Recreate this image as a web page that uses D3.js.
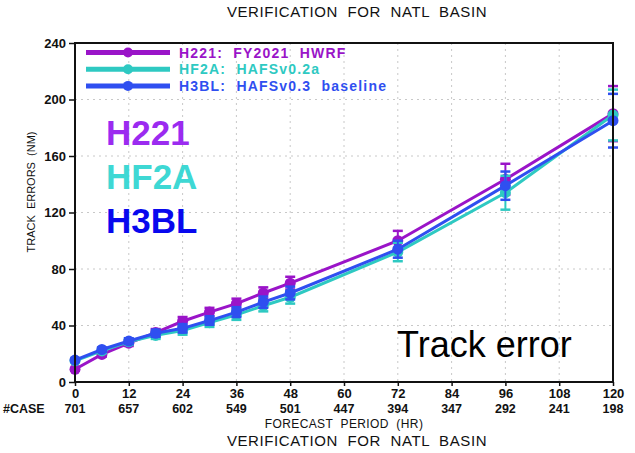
<!DOCTYPE html>
<html>
<head>
<meta charset="utf-8">
<script src="https://cdn.jsdelivr.net/npm/d3@7"></script>
<style>
  html, body { margin: 0; padding: 0; background: #fff; }
  svg { display: block; font-family: "Liberation Sans", Arial, sans-serif; }
</style>
</head>
<body>
<svg id="chart" width="635" height="453"></svg>
<script>
// Forecast lead times (hours) and the verification sample size at each axis tick
const leadHours = [0, 6, 12, 18, 24, 30, 36, 42, 48, 72, 96, 120];
const xTicks = [0, 12, 24, 36, 48, 60, 72, 84, 96, 108, 120];
const caseCounts = [701, 657, 602, 549, 501, 447, 394, 347, 292, 241, 198];
const yTicks = [0, 40, 80, 120, 160, 200, 240];

// Mean track errors (NM) and confidence half-widths per model
const h221 = [9, 19.5, 27.5, 35, 43, 49.5, 55.5, 63, 70, 100, 143.5, 190];
const h221Err = [1, 1.5, 2, 2.5, 3, 3, 3.5, 4, 4.5, 7, 11, 19.5];
const hf2a = [15, 22, 28.5, 33, 36.5, 42, 47.5, 54, 60, 92, 134, 189];
const hf2aErr = [1, 1.5, 2, 2.5, 3, 3, 3.5, 4, 4.5, 6.5, 12, 18];
const h3bl = [15.5, 23, 29, 34.5, 38, 43.5, 49.5, 56.5, 63, 94, 139, 185];
const h3blErr = [1, 1.5, 2, 2.5, 3, 3, 3.5, 4, 4.5, 6, 10, 19];

const seriesNames = ["H221", "HF2A", "H3BL"];
const legendLabels = ["H221:  FY2021  HWRF", "HF2A:  HAFSv0.2a", "H3BL:  HAFSv0.3  baseline"];

const series = [
  { name: seriesNames[0], label: legendLabels[0], values: h221, err: h221Err, color: "#9A14C8", big: "#9B2BF0" },
  { name: seriesNames[1], label: legendLabels[1], values: hf2a, err: hf2aErr, color: "#2EC9C2", big: "#3ED8D4" },
  { name: seriesNames[2], label: legendLabels[2], values: h3bl, err: h3blErr, color: "#2F4FF0", big: "#0808EE" }
];

const FONT = "Liberation Sans, Arial, sans-serif";
const svg = d3.select("#chart");
const plot = { left: 75, right: 613, top: 43, bottom: 382 };

const x = d3.scaleLinear().domain([0, 120]).range([plot.left, plot.right]);
const y = d3.scaleLinear().domain([0, 240]).range([plot.bottom, plot.top]);

// dotted grid
const grid = svg.append("g");
grid.selectAll("line.gx").data(xTicks.slice(1, -1)).enter().append("line")
  .attr("x1", d => x(d)).attr("x2", d => x(d))
  .attr("y1", plot.top).attr("y2", plot.bottom)
  .attr("stroke", "#c8c8c8").attr("stroke-width", 1).attr("stroke-dasharray", "2,4");
grid.selectAll("line.gy").data(yTicks.slice(1, -1)).enter().append("line")
  .attr("x1", plot.left).attr("x2", plot.right)
  .attr("y1", d => y(d)).attr("y2", d => y(d))
  .attr("stroke", "#c8c8c8").attr("stroke-width", 1).attr("stroke-dasharray", "2,4");

// big model tags
const bigTags = svg.append("g").attr("font-family", FONT)
  .attr("font-weight", "bold").attr("font-size", 35);
series.forEach((s, i) => {
  bigTags.append("text").attr("x", 106).attr("y", 145 + i * 44)
    .attr("fill", s.big).text(s.name);
});

// "Track error" annotation
svg.append("text").attr("x", 397).attr("y", 357)
  .attr("font-family", FONT).attr("font-size", 36)
  .attr("fill", "#000").text("Track error");

// series: lines, error bars, markers
const line = d3.line().x((d, i) => x(leadHours[i])).y(d => y(d));
series.forEach(s => {
  const g = svg.append("g");
  g.append("path").datum(s.values).attr("d", line)
    .attr("fill", "none").attr("stroke", s.color).attr("stroke-width", 3);
  const eb = g.selectAll("g.eb").data(s.values).enter().append("g");
  eb.append("line")
    .attr("x1", (d, i) => x(leadHours[i])).attr("x2", (d, i) => x(leadHours[i]))
    .attr("y1", (d, i) => y(d - s.err[i])).attr("y2", (d, i) => y(d + s.err[i]))
    .attr("stroke", s.color).attr("stroke-width", 2);
  [-1, 1].forEach(sign => {
    eb.append("line")
      .attr("x1", (d, i) => x(leadHours[i]) - 5).attr("x2", (d, i) => x(leadHours[i]) + 5)
      .attr("y1", (d, i) => y(d + sign * s.err[i])).attr("y2", (d, i) => y(d + sign * s.err[i]))
      .attr("stroke", s.color).attr("stroke-width", 2.5);
  });
  g.selectAll("circle").data(s.values).enter().append("circle")
    .attr("cx", (d, i) => x(leadHours[i])).attr("cy", d => y(d))
    .attr("r", 5.5).attr("fill", s.color);
});

// frame
svg.append("rect").attr("x", plot.left).attr("y", plot.top)
  .attr("width", plot.right - plot.left).attr("height", plot.bottom - plot.top)
  .attr("fill", "none").attr("stroke", "#111").attr("stroke-width", 2);

// axes
const yAxis = svg.append("g").attr("transform", `translate(${plot.left},0)`)
  .call(d3.axisLeft(y).tickValues(yTicks).tickSize(6).tickPadding(3));
const xAxis = svg.append("g").attr("transform", `translate(0,${plot.bottom})`)
  .call(d3.axisBottom(x).tickValues(xTicks).tickSize(4).tickPadding(3));
[yAxis, xAxis].forEach(a => {
  a.select(".domain").remove();
  a.selectAll(".tick line").attr("stroke", "#111").attr("stroke-width", 1.5);
  a.selectAll(".tick text").attr("font-family", FONT)
    .attr("font-weight", "bold").attr("font-size", 13).attr("fill", "#111");
});

// case counts row
const caseRow = svg.append("g").attr("font-family", FONT)
  .attr("font-weight", "bold").attr("font-size", 12.5).attr("fill", "#111");
caseRow.append("text").attr("x", 3).attr("y", 413).text("#CASE");
caseRow.selectAll("text.n").data(caseCounts).enter().append("text")
  .attr("x", (d, i) => x(xTicks[i])).attr("y", 413)
  .attr("text-anchor", "middle").text(d => d);

// axis titles
svg.append("text").attr("x", 344).attr("y", 428).attr("text-anchor", "middle")
  .attr("font-family", FONT).attr("font-size", 12).attr("letter-spacing", 0.4)
  .attr("fill", "#111").style("white-space", "pre").text("FORECAST  PERIOD  (HR)");
svg.append("text").attr("transform", "translate(35,192) rotate(-90)").attr("text-anchor", "middle")
  .attr("font-family", FONT).attr("font-size", 11)
  .attr("fill", "#111").style("white-space", "pre").text("TRACK  ERRORS  (NM)");

// titles
[17, 446].forEach(ty => {
  svg.append("text").attr("x", 357).attr("y", ty).attr("text-anchor", "middle")
    .attr("font-family", FONT).attr("font-size", 15).attr("letter-spacing", 0.6)
    .attr("fill", "#111").style("white-space", "pre").text("VERIFICATION  FOR  NATL  BASIN");
});

// legend
const legend = svg.append("g");
series.forEach((s, i) => {
  const ly = 52.5 + i * 16.7;
  legend.append("line").attr("x1", 86).attr("x2", 170).attr("y1", ly).attr("y2", ly)
    .attr("stroke", s.color).attr("stroke-width", 5);
  legend.append("circle").attr("cx", 128).attr("cy", ly).attr("r", 5).attr("fill", s.color);
  legend.append("text").attr("x", 179).attr("y", ly + 5)
    .attr("font-family", FONT).attr("font-weight", "bold")
    .attr("font-size", 14).attr("letter-spacing", 1.2).attr("fill", s.color)
    .style("white-space", "pre").text(s.label);
});
</script>
</body>
</html>
